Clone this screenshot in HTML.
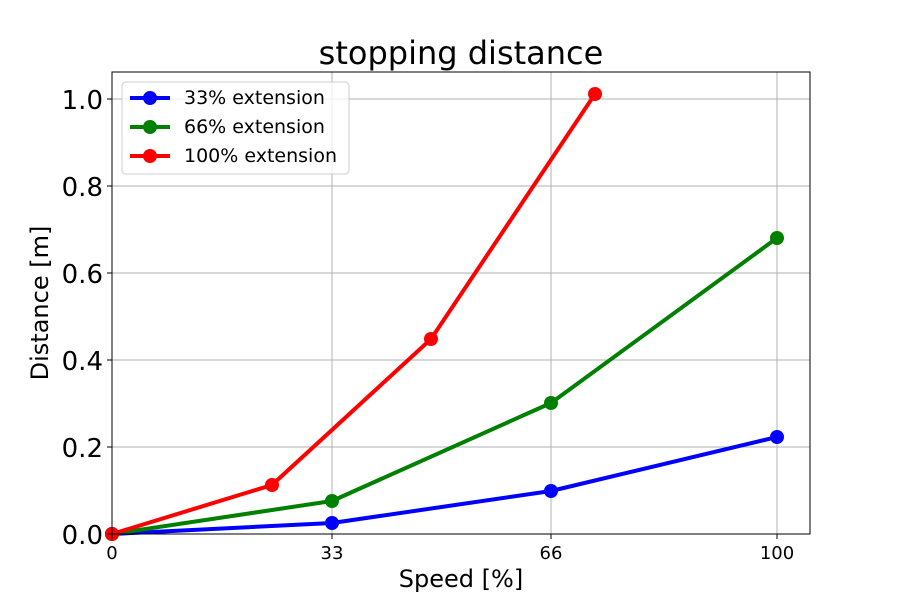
<!DOCTYPE html>
<html><head><meta charset="utf-8"><style>body{margin:0;background:#fff}svg{display:block;font-family:"DejaVu Sans","Liberation Sans",sans-serif}</style></head><body>
<svg width="900" height="600" xmlns="http://www.w3.org/2000/svg">
<rect width="900" height="600" fill="#fff"/>
<g stroke="#b0b0b0" stroke-width="1">
<line x1="112" y1="72" x2="112" y2="534"/><line x1="332" y1="72" x2="332" y2="534"/><line x1="551" y1="72" x2="551" y2="534"/><line x1="777" y1="72" x2="777" y2="534"/>
<line x1="112" y1="534" x2="810" y2="534"/><line x1="112" y1="447" x2="810" y2="447"/><line x1="112" y1="360" x2="810" y2="360"/><line x1="112" y1="273" x2="810" y2="273"/><line x1="112" y1="186" x2="810" y2="186"/><line x1="112" y1="99" x2="810" y2="99"/>
</g>
<g fill="none" stroke-width="4" stroke-linejoin="round">
<polyline stroke="#0000ff" points="112,534 332,523 551,491 777,437"/>
<polyline stroke="#008000" points="112,534 332,501 551,403 777,238"/>
<polyline stroke="#ff0000" points="112,534 272,485 431,339 595,94"/>
</g>
<g fill="#0000ff"><circle cx="112" cy="534" r="7"/><circle cx="332" cy="523" r="7"/><circle cx="551" cy="491" r="7"/><circle cx="777" cy="437" r="7"/></g>
<g fill="#008000"><circle cx="112" cy="534" r="7"/><circle cx="332" cy="501" r="7"/><circle cx="551" cy="403" r="7"/><circle cx="777" cy="238" r="7"/></g>
<g fill="#ff0000"><circle cx="112" cy="534" r="7"/><circle cx="272" cy="485" r="7"/><circle cx="431" cy="339" r="7"/><circle cx="595" cy="94" r="7"/></g>
<rect x="112" y="72" width="698" height="462" fill="none" stroke="#000" stroke-width="1"/>
<g stroke="#000"><line x1="112" y1="534" x2="112" y2="539"/><line x1="332" y1="534" x2="332" y2="539"/><line x1="551" y1="534" x2="551" y2="539"/><line x1="777" y1="534" x2="777" y2="539"/>
<line x1="107" y1="534" x2="112" y2="534"/><line x1="107" y1="447" x2="112" y2="447"/><line x1="107" y1="360" x2="112" y2="360"/><line x1="107" y1="273" x2="112" y2="273"/><line x1="107" y1="186" x2="112" y2="186"/><line x1="107" y1="99" x2="112" y2="99"/></g>
<g font-size="18" text-anchor="middle"><text x="112" y="559">0</text><text x="332" y="559">33</text><text x="551" y="559">66</text><text x="777" y="559">100</text></g>
<g font-size="26" text-anchor="end"><text x="103" y="544">0.0</text><text x="103" y="457">0.2</text><text x="103" y="370">0.4</text><text x="103" y="283">0.6</text><text x="103" y="196">0.8</text><text x="103" y="109">1.0</text></g>
<text x="461" y="587" font-size="24" text-anchor="middle">Speed [%]</text>
<text transform="translate(48,303) rotate(-90)" font-size="24" text-anchor="middle">Distance [m]</text>
<text x="461" y="64" font-size="32" text-anchor="middle">stopping distance</text>
<rect x="122" y="82" width="227" height="92" rx="4" fill="#fff" fill-opacity="0.8" stroke="#ccc"/>
<line x1="130" y1="98" x2="170" y2="98" stroke="#0000ff" stroke-width="4"/><circle cx="150" cy="98" r="7" fill="#0000ff"/>
<line x1="130" y1="127" x2="170" y2="127" stroke="#008000" stroke-width="4"/><circle cx="150" cy="127" r="7" fill="#008000"/>
<line x1="130" y1="156" x2="170" y2="156" stroke="#ff0000" stroke-width="4"/><circle cx="150" cy="156" r="7" fill="#ff0000"/>
<g font-size="19"><text x="184" y="104">33% extension</text><text x="184" y="133">66% extension</text><text x="184" y="162">100% extension</text></g>
</svg>
</body></html>
